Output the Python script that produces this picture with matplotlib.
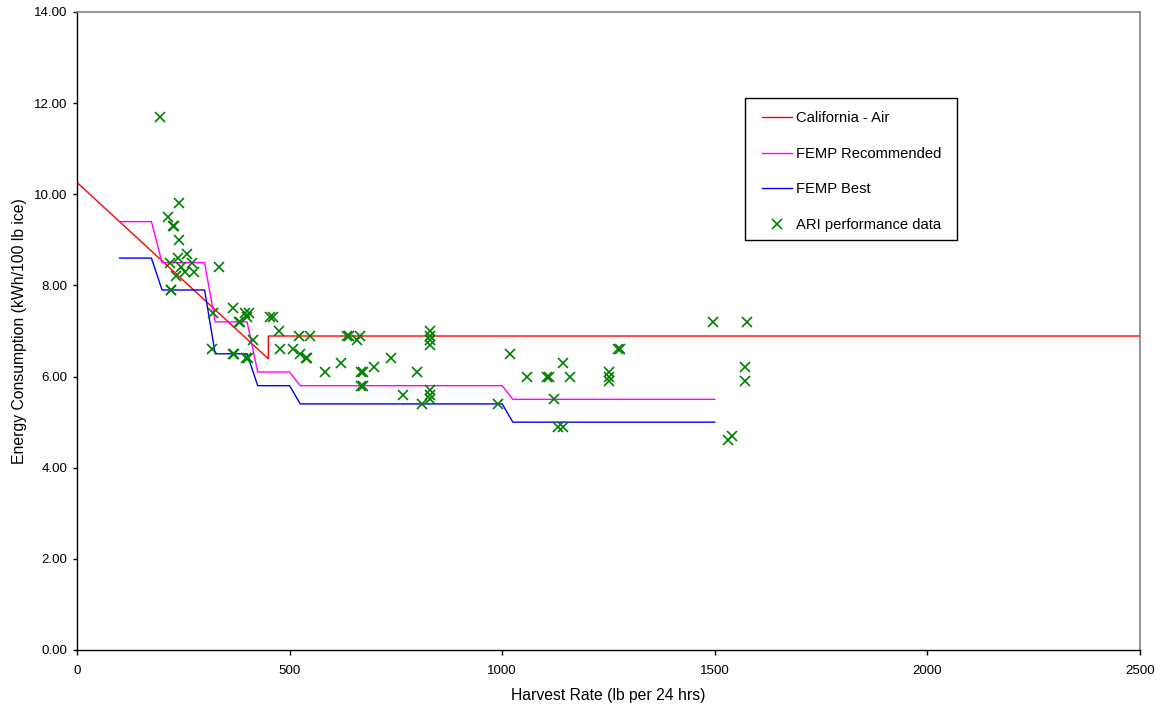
import matplotlib
matplotlib.use("Agg")
import matplotlib.pyplot as plt
from matplotlib.patches import Rectangle

plt.rcParams['font.family'] = ['Liberation Sans', 'DejaVu Sans']

# California standard (air-cooled): sloped below 450 lb, flat above
ca_x = [0, 450, 450, 2500]
ca_y = [10.26, 6.39, 6.89, 6.89]

# FEMP recommended step curve
femp_rec_x = [100, 175, 200, 300, 325, 400, 425, 500, 525, 1000, 1025, 1500]
femp_rec_y = [9.4, 9.4, 8.5, 8.5, 7.2, 7.2, 6.1, 6.1, 5.8, 5.8, 5.5, 5.5]

# FEMP best available step curve
femp_best_x = [100, 175, 200, 300, 325, 400, 425, 500, 525, 1000, 1025, 1500]
femp_best_y = [8.6, 8.6, 7.9, 7.9, 6.5, 6.5, 5.8, 5.8, 5.4, 5.4, 5.0, 5.0]

# ARI certified performance data
ari_x = [195, 240, 215, 225, 228, 240, 259, 238, 219, 270, 244, 254, 275, 234,
         335, 220, 222, 368, 320, 395, 405, 399, 380, 384, 455, 460, 475,
         522, 547, 636, 640, 666, 659, 830, 830, 830, 830,
         317, 366, 370, 397, 401, 413, 477, 509, 525, 538, 542,
         583, 622, 668, 672, 668, 672, 698, 738, 799, 767,
         830, 830, 830, 811, 1018, 1058, 1106, 1110, 1122, 989, 1132, 1144,
         1495, 1575, 1273, 1277, 1144, 1159, 1250, 1250, 1250, 1570, 1570,
         1532, 1540]
ari_y = [11.7, 9.8, 9.5, 9.3, 9.3, 9.0, 8.7, 8.6, 8.5, 8.5, 8.4, 8.3, 8.3, 8.2,
         8.4, 7.9, 7.9, 7.5, 7.4, 7.4, 7.4, 7.3, 7.2, 7.2, 7.3, 7.3, 7.0,
         6.9, 6.9, 6.9, 6.9, 6.9, 6.8, 7.0, 6.9, 6.8, 6.7,
         6.6, 6.5, 6.5, 6.4, 6.4, 6.8, 6.6, 6.6, 6.5, 6.4, 6.4,
         6.1, 6.3, 6.1, 6.1, 5.8, 5.8, 6.2, 6.4, 6.1, 5.6,
         5.7, 5.6, 5.5, 5.4, 6.5, 6.0, 6.0, 6.0, 5.5, 5.4, 4.9, 4.9,
         7.2, 7.2, 6.6, 6.6, 6.3, 6.0, 6.1, 6.0, 5.9, 6.2, 5.9,
         4.6, 4.7]

x_ticks = [0, 500, 1000, 1500, 2000, 2500]
y_ticks = [0, 2, 4, 6, 8, 10, 12, 14]

W, H = 1162, 709
fig = plt.figure(figsize=(W / 100, H / 100), dpi=100)
ax = fig.add_axes([77 / W, 59 / H, 1063 / W, 638 / H])

ax.plot(ca_x, ca_y, color='#FF0000', lw=1.0, label='California - Air')
ax.plot(femp_rec_x, femp_rec_y, color='#FF00FF', lw=1.0, label='FEMP Recommended')
ax.plot(femp_best_x, femp_best_y, color='#0000FF', lw=1.0, label='FEMP Best')
ax.plot(ari_x, ari_y, linestyle='none', marker='x', color='#008000',
        markersize=7.5, markeredgewidth=1.2, label='ARI performance data')

ax.set_xlim(0, 2500)
ax.set_ylim(0, 14)
ax.set_xticks(x_ticks)
ax.set_xticklabels([str(v) for v in x_ticks])
ax.set_yticks(y_ticks)
ax.set_yticklabels([f"{v:.2f}" for v in y_ticks])

ax.tick_params(axis='both', direction='out', width=1, labelsize=9.6, color='black')
ax.tick_params(axis='y', length=3, pad=4)
ax.tick_params(axis='x', length=3.6, pad=7)

for s in ('left', 'bottom'):
    ax.spines[s].set_color('black')
    ax.spines[s].set_linewidth(1.0)
for s in ('top', 'right'):
    ax.spines[s].set_color('#808080')
    ax.spines[s].set_linewidth(1.2)

ax.set_xlabel('Harvest Rate (lb per 24 hrs)', fontsize=11.3, labelpad=8)
ax.set_ylabel('Energy Consumption (kWh/100 lb ice)', fontsize=11.3, labelpad=5)

# Legend box outline drawn separately so its padding can differ per side
ax.add_patch(Rectangle((668 / 1063, (650 - 240) / 638), 212 / 1063, 142 / 638,
                       transform=ax.transAxes, facecolor='white',
                       edgecolor='black', lw=1.0, zorder=4))
leg = ax.legend(loc='upper left', bbox_to_anchor=(685 / 1063, (650 - 111.5) / 638),
                frameon=False, fontsize=10.65, labelspacing=1.45,
                handlelength=2.03, handletextpad=0.25, borderpad=0.0,
                borderaxespad=0.0, markerscale=0.9)
leg.set_zorder(5)

fig.savefig('out.png', dpi=100, facecolor='white')
